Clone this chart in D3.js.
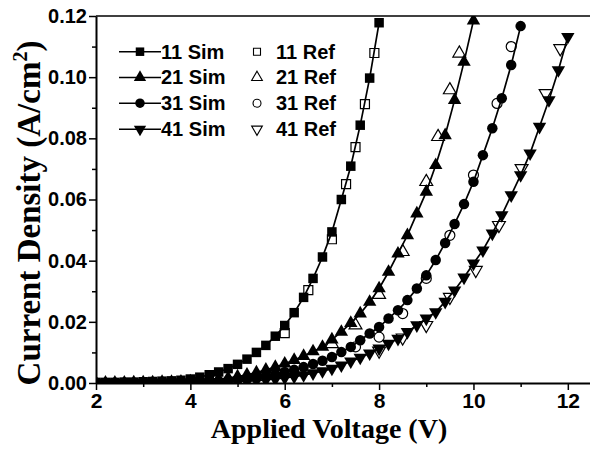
<!DOCTYPE html>
<html>
<head>
<meta charset="utf-8">
<script src="https://cdn.jsdelivr.net/npm/d3@7"></script>
<style>
  body { margin: 0; background: #fff; }
  svg { display: block; }
  .tick text { font-family: "Liberation Sans", Arial, sans-serif; font-weight: bold; }
</style>
</head>
<body>
<div id="chart"></div>
<script>
// simulated curves share one voltage list (each series stops where it leaves the plot)
var simVoltage = [2.0, 2.2, 2.4, 2.6, 2.8, 3.0, 3.2, 3.4, 3.6, 3.8,
    4.0, 4.2, 4.4, 4.6, 4.8, 5.0, 5.2, 5.4, 5.6, 5.8,
    6.0, 6.2, 6.4, 6.6, 6.8, 7.0, 7.2, 7.4, 7.6, 7.8,
    8.0, 8.2, 8.4, 8.6, 8.8, 9.0, 9.2, 9.4, 9.6, 9.8,
    10.0, 10.2, 10.4, 10.6, 10.8, 11.0, 11.2, 11.4, 11.6, 11.8, 12.0];

var sim11 = [0.0002, 0.0002, 0.0002, 0.0003, 0.0003, 0.0004, 0.0005, 0.0006, 0.0007, 0.0009,
    0.0013, 0.0019, 0.0027, 0.0036, 0.0047, 0.0061, 0.0078, 0.0100, 0.0123, 0.0153,
    0.0188, 0.0230, 0.0280, 0.0342, 0.0412, 0.0494, 0.0600, 0.0709, 0.0843, 0.0997,
    0.1178];
var sim21 = [0.0001, 0.0001, 0.0001, 0.0001, 0.0002, 0.0002, 0.0002, 0.0003, 0.0003, 0.0004,
    0.0005, 0.0007, 0.0009, 0.0012, 0.0016, 0.0021, 0.0027, 0.0034, 0.0043, 0.0052,
    0.0063, 0.0075, 0.0088, 0.0103, 0.0118, 0.0142, 0.0167, 0.0196, 0.0227, 0.0265,
    0.0309, 0.0363, 0.0423, 0.0483, 0.0554, 0.0625, 0.0712, 0.0810, 0.0925, 0.1050,
    0.1185];
var sim31 = [0.0001, 0.0001, 0.0001, 0.0001, 0.0001, 0.0001, 0.0002, 0.0002, 0.0002, 0.0003,
    0.0003, 0.0004, 0.0005, 0.0006, 0.0008, 0.0011, 0.0014, 0.0018, 0.0023, 0.0029,
    0.0036, 0.0043, 0.0052, 0.0062, 0.0073, 0.0085, 0.0101, 0.0118, 0.0140, 0.0162,
    0.0183, 0.0211, 0.0238, 0.0271, 0.0309, 0.0352, 0.0402, 0.0458, 0.0520, 0.0585,
    0.0658, 0.0745, 0.0833, 0.0931, 0.1040, 0.1167];
var sim41 = [0.0001, 0.0001, 0.0001, 0.0001, 0.0001, 0.0001, 0.0001, 0.0001, 0.0002, 0.0002,
    0.0002, 0.0002, 0.0003, 0.0003, 0.0004, 0.0005, 0.0006, 0.0008, 0.0010, 0.0013,
    0.0017, 0.0021, 0.0026, 0.0032, 0.0039, 0.0047, 0.0058, 0.0071, 0.0083, 0.0097,
    0.0113, 0.0129, 0.0145, 0.0167, 0.0189, 0.0211, 0.0232, 0.0266, 0.0303, 0.0345,
    0.0391, 0.0434, 0.0489, 0.0549, 0.0614, 0.0680, 0.0751, 0.0838, 0.0925, 0.1023,
    0.1132];

// reference points (open symbols)
var ref11V = [6.0, 6.5, 7.0, 7.3, 7.5, 7.7, 7.9];
var ref11 = [0.0163, 0.0304, 0.0470, 0.0650, 0.0771, 0.0912, 0.1079];
var ref21V = [7.0, 7.5, 8.0, 8.5, 9.0, 9.25, 9.5, 9.7];
var ref21 = [0.0128, 0.0189, 0.0289, 0.0429, 0.0658, 0.0805, 0.0958, 0.1078];
var ref31V = [7.5, 8.0, 8.5, 9.0, 9.5, 10.0, 10.5, 10.8];
var ref31 = [0.0118, 0.0150, 0.0227, 0.0342, 0.0483, 0.0680, 0.0914, 0.1100];
var ref41V = [8.0, 8.5, 9.0, 9.5, 10.05, 10.54, 11.02, 11.53, 11.84];
var ref41 = [0.0105, 0.0148, 0.0189, 0.0281, 0.0369, 0.0516, 0.0702, 0.0947, 0.1094];

var xTicks = [2, 4, 6, 8, 10, 12];
var xMinor = [3, 5, 7, 9, 11];
var yTicks = [0, 0.02, 0.04, 0.06, 0.08, 0.10, 0.12];
var yMinor = [0.01, 0.03, 0.05, 0.07, 0.09, 0.11];

var seriesNames = ["11", "21", "31", "41"];
var symbols = ["square", "up", "circle", "down"];

var svgWidth = 590, svgHeight = 449;
var margin = {top: 16, right: 0, bottom: 66, left: 96};
var width = svgWidth - margin.left - margin.right;
var height = svgHeight - margin.top - margin.bottom;

var svg = d3.select("#chart").append("svg")
    .attr("width", svgWidth)
    .attr("height", svgHeight);

var x = d3.scaleLinear().domain([2, 12.47]).range([0, width]);
var y = d3.scaleLinear().domain([0, 0.12]).range([height, 0]);

var chartGroup = svg.append("g")
    .attr("transform", `translate(${margin.left}, ${margin.top})`);

svg.append("defs").append("clipPath").attr("id", "plotclip")
    .append("rect").attr("x", 0).attr("y", 0).attr("width", width).attr("height", height);

// marker path for a given kind
function markerPath(kind, size) {
    var s;
    if (kind === "square") s = d3.symbol(d3.symbolSquare, size * size);
    else if (kind === "circle") s = d3.symbol(d3.symbolCircle, Math.PI * size * size / 4);
    else s = d3.symbol(d3.symbolTriangle, Math.sqrt(3) / 4 * size * size * 1.15);
    return s();
}
function markerTransform(kind, px, py) {
    return `translate(${px},${py})` + (kind === "down" ? " rotate(180)" : "");
}

var plot = chartGroup.append("g").attr("clip-path", "url(#plotclip)");

var simSets = [sim11, sim21, sim31, sim41];
var refSets = [[ref11V, ref11], [ref21V, ref21], [ref31V, ref31], [ref41V, ref41]];
var simSize = {square: 9.5, up: 12.5, circle: 10.5, down: 12.5};
var refSize = {square: 9, up: 12, circle: 10, down: 12};

// open reference symbols first
refSets.forEach(function(r, i) {
    var kind = symbols[i];
    var pts = r[0].map(function(v, j) { return {v: v, c: r[1][j]}; });
    plot.append("g").selectAll("path")
        .data(pts).enter().append("path")
        .attr("d", markerPath(kind, refSize[kind]))
        .attr("transform", d => markerTransform(kind, x(d.v), y(d.c)))
        .attr("fill", "none")
        .attr("stroke", "#000")
        .attr("stroke-width", 1.2);
});

var line = d3.line().x(d => x(d.v)).y(d => y(d.c));

simSets.forEach(function(vals, i) {
    var kind = symbols[i];
    var pts = vals.map(function(c, j) { return {v: simVoltage[j], c: c}; });
    plot.append("path")
        .datum(pts)
        .attr("d", line)
        .attr("fill", "none")
        .attr("stroke", "#000")
        .attr("stroke-width", 1.7);
    plot.append("g").selectAll("path")
        .data(pts).enter().append("path")
        .attr("d", markerPath(kind, simSize[kind]))
        .attr("transform", d => markerTransform(kind, x(d.v), y(d.c)))
        .attr("fill", "#000");
});

// axes
var xAxis = chartGroup.append("g")
    .attr("transform", `translate(0, ${height})`)
    .call(d3.axisBottom(x).tickValues(xTicks).tickSize(7).tickSizeOuter(0).tickPadding(3).tickFormat(d3.format("d")));
chartGroup.append("g")
    .attr("transform", `translate(0, ${height})`)
    .call(d3.axisBottom(x).tickValues(xMinor).tickSize(4).tickSizeOuter(0).tickFormat(""))
    .select(".domain").remove();

var yAxis = chartGroup.append("g")
    .call(d3.axisLeft(y).tickValues(yTicks).tickSize(7).tickSizeOuter(0).tickPadding(2).tickFormat(d3.format(".2f")));
chartGroup.append("g")
    .call(d3.axisLeft(y).tickValues(yMinor).tickSize(4).tickSizeOuter(0).tickFormat(""))
    .select(".domain").remove();

chartGroup.selectAll(".domain").attr("stroke-width", 2);
chartGroup.selectAll(".tick line").attr("stroke-width", 1.5);
xAxis.selectAll(".tick text").style("font-size", "21px");
yAxis.selectAll(".tick text").style("font-size", "20px");

// top frame
chartGroup.append("line")
    .attr("x1", 0).attr("x2", width).attr("y1", 0).attr("y2", 0)
    .attr("stroke", "#000").attr("stroke-width", 1.5);

// axis titles
svg.append("text")
    .attr("x", 329).attr("y", 438)
    .attr("text-anchor", "middle")
    .style("font-family", "'Liberation Serif', 'Times New Roman', serif")
    .style("font-weight", "bold")
    .style("font-size", "28px")
    .text("Applied Voltage (V)");

var yTitle = svg.append("text")
    .attr("transform", "translate(40, 213) rotate(-90)")
    .attr("text-anchor", "middle")
    .style("font-family", "'Liberation Serif', 'Times New Roman', serif")
    .style("font-weight", "bold")
    .style("font-size", "33px");
yTitle.append("tspan").text("Current Density (A/cm");
yTitle.append("tspan").attr("dy", -13).style("font-size", "20px").text("2");
yTitle.append("tspan").attr("dy", 13).text(")");

// legend
var legend = svg.append("g");
var rowY = [51.7, 77.4, 103.2, 129.2];
seriesNames.forEach(function(name, i) {
    var kind = symbols[i];
    var ly = rowY[i];
    legend.append("line")
        .attr("x1", 119).attr("x2", 161).attr("y1", ly).attr("y2", ly)
        .attr("stroke", "#000").attr("stroke-width", 1.5);
    legend.append("path")
        .attr("d", markerPath(kind, simSize[kind] - 1))
        .attr("transform", markerTransform(kind, 140, ly))
        .attr("fill", "#000");
    legend.append("text")
        .attr("x", 161).attr("y", ly + 7)
        .style("font-family", "'Liberation Sans', Arial, sans-serif")
        .style("font-weight", "bold")
        .style("font-size", "20px")
        .text(name + " Sim");
    legend.append("path")
        .attr("d", markerPath(kind, refSize[kind] - 2))
        .attr("transform", markerTransform(kind, 257, ly))
        .attr("fill", "none")
        .attr("stroke", "#000")
        .attr("stroke-width", 1.1);
    legend.append("text")
        .attr("x", 276).attr("y", ly + 7)
        .style("font-family", "'Liberation Sans', Arial, sans-serif")
        .style("font-weight", "bold")
        .style("font-size", "20px")
        .text(name + " Ref");
});
</script>
</body>
</html>
